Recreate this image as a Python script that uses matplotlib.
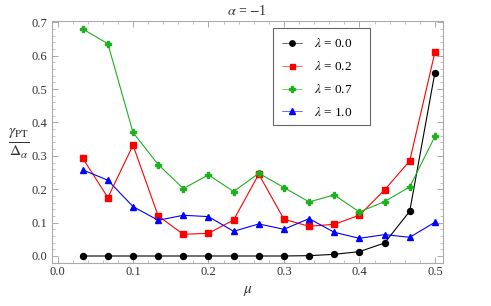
import matplotlib
matplotlib.use('Agg')
import matplotlib.pyplot as plt
from matplotlib.ticker import MultipleLocator, FormatStrFormatter
from matplotlib.patches import Rectangle

plt.rcParams['font.family'] = ['Liberation Serif', 'DejaVu Serif']
plt.rcParams['mathtext.fontset'] = 'stix'

mu = [1/30, 2/30, 3/30, 4/30, 5/30, 6/30, 7/30, 8/30, 9/30, 10/30, 11/30, 12/30, 13/30, 14/30, 15/30]
lam_00 = [0.0, 0.0, 0.0, 0.0, 0.0, 0.0, 0.0, 0.0, 0.0, 0.001, 0.005, 0.013, 0.039, 0.134, 0.549]
lam_02 = [0.293, 0.175, 0.332, 0.12, 0.065, 0.068, 0.108, 0.245, 0.11, 0.089, 0.095, 0.122, 0.198, 0.285, 0.61]
lam_07 = [0.68, 0.636, 0.37, 0.274, 0.202, 0.243, 0.193, 0.248, 0.205, 0.162, 0.183, 0.132, 0.163, 0.207, 0.358]
lam_10 = [0.258, 0.227, 0.148, 0.107, 0.122, 0.118, 0.074, 0.096, 0.08, 0.112, 0.071, 0.053, 0.064, 0.056, 0.101]

fig = plt.figure(figsize=(4.91, 3.06), dpi=100)
ax = fig.add_axes([0.106, 0.1405, 0.796, 0.792])

ax.plot(mu, lam_00, color='black', lw=0.8, marker='o', ms=4.3, label=r'$\lambda$ = 0.0')
ax.plot(mu, lam_02, color='red', lw=0.8, marker='s', ms=4.0, label=r'$\lambda$ = 0.2')
ax.plot(mu, lam_07, color='#1fb01f', lw=0.8, marker='P', ms=4.6, label=r'$\lambda$ = 0.7')
ax.plot(mu, lam_10, color='blue', lw=0.8, marker='^', ms=4.3, label=r'$\lambda$ = 1.0')

ax.set_xlim(-0.0073, 0.5106)
ax.set_ylim(-0.021, 0.705)
ax.xaxis.set_major_locator(MultipleLocator(0.1))
ax.xaxis.set_minor_locator(MultipleLocator(0.02))
ax.yaxis.set_major_locator(MultipleLocator(0.1))
ax.yaxis.set_minor_locator(MultipleLocator(0.02))
ax.xaxis.set_major_formatter(FormatStrFormatter('%.1f'))
ax.yaxis.set_major_formatter(FormatStrFormatter('%.1f'))

for s in ax.spines.values():
    s.set_color('#aaaaaa')
    s.set_linewidth(0.8)
ax.tick_params(which='both', direction='in', top=True, right=True, color='#aaaaaa', labelsize=9, labelcolor='#333333')
ax.tick_params(axis='x', pad=2)
ax.tick_params(which='major', length=4, width=0.7)
ax.tick_params(which='minor', length=2, width=0.5)

ax.set_title(r'$\alpha$ = $-$1', fontsize=10, color='#333333', pad=4)
ax.set_xlabel(r'$\mu$', fontsize=11, color='#333333')
ax.xaxis.set_label_coords(0.5, -0.085)
ax.set_ylabel(r'$\frac{\gamma_{\rm PT}}{\Delta_\alpha}$', fontsize=16, rotation=0, color='#333333', va='center', ha='center')
ax.yaxis.set_label_coords(-0.085, 0.49)

# legend box drawn separately, Mathematica-style
ax.add_patch(Rectangle((0.565, 0.570), 0.248, 0.401, transform=ax.transAxes, fill=True,
                       facecolor='white', edgecolor='#666666', lw=0.8, zorder=4))
leg = ax.legend(loc='upper left', bbox_to_anchor=(0.558, 0.98), fontsize=9.5, frameon=False,
                handlelength=1.5, handletextpad=0.9, labelspacing=0.75, borderpad=0.4, markerscale=0.9)
leg.set_zorder(5)
for line in leg.get_lines():
    line.set_linewidth(0.4)

fig.savefig('out.png', dpi=100)
